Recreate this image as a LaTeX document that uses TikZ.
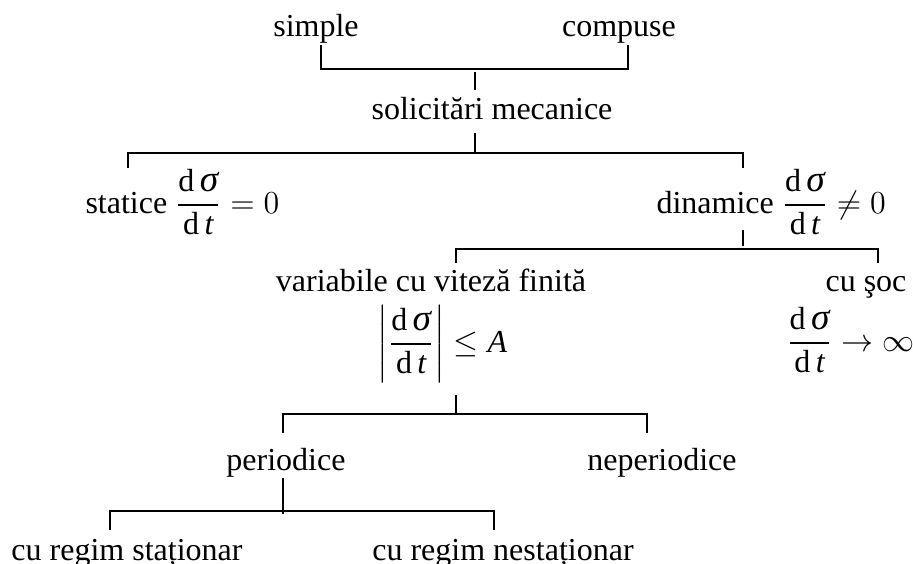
\documentclass[tikz,border=0pt]{standalone}
\usepackage{amsmath}
\usepackage{fontspec}
\setmainfont{Liberation Serif}
\usepackage{tikz}
\newcommand{\dsdt}{\dfrac{\mathrm{d}\,\textit{\fontsize{14}{16}\selectfont σ}}{\mathrm{d}\,\textit{t}}}

\begin{document}
\begin{tikzpicture}[
    x=0.375pt, y=-0.375pt,
    lbl/.style={inner sep=0pt, font=\fontsize{12}{14}\selectfont},
    br/.style={line width=0.75pt, black}
]
\useasboundingbox (0,0) rectangle (913,564);

\node[lbl, anchor=base] (simple) at (316,37) {simple};
\node[lbl, anchor=base] (compuse) at (619,37) {compuse};
\node[lbl, anchor=base] (solic) at (492,119) {solicitări mecanice};
\node[lbl, anchor=base west] (statice) at (85,213) {statice $\dsdt = 0$};
\node[lbl, anchor=base west] (dinamice) at (656,213) {dinamice $\dsdt \neq 0$};
\node[lbl, anchor=base] (variab) at (431,292) {variabile cu viteză finită};
\node[lbl, anchor=base west] (modul) at (377,352) {$\left|\dsdt\right| \leq \textit{A}$};
\node[lbl, anchor=base] (soc) at (866,292) {cu şoc};
\node[lbl, anchor=base west] (socinf) at (786,351) {$\dsdt \to \infty$};
\node[lbl, anchor=base] (period) at (286,470) {periodice};
\node[lbl, anchor=base] (neperiod) at (662,470) {neperiodice};
\node[lbl, anchor=base] (stat) at (127,560) {cu regim staționar};
\node[lbl, anchor=base] (nestat) at (503,560) {cu regim nestaționar};

% bracket ends and stems
\coordinate (k1a) at (321,45);  \coordinate (k1) at (475,69);  \coordinate (k1b) at (628,45);
\coordinate (k2a) at (128,168); \coordinate (k2) at (475,153); \coordinate (k2b) at (743,168);
\coordinate (k3a) at (456,263); \coordinate (k3) at (743,249); \coordinate (k3b) at (878,263);
\coordinate (k4a) at (283,433); \coordinate (k4) at (456,414); \coordinate (k4b) at (647,433);
\coordinate (k5a) at (110,530); \coordinate (k5) at (283,511); \coordinate (k5b) at (494,530);
\coordinate (s1a) at (475,72);  \coordinate (s1b) at (475,90);
\coordinate (s2) at (475,133);
\coordinate (s3a) at (743,230); \coordinate (s3b) at (743,246);
\coordinate (s4) at (456,395);
\coordinate (s5a) at (283,478); \coordinate (s5b) at (283,514);

\draw[br] (k1a) |- (k1) -| (k1b);
\draw[br] (s1a) -- (s1b);
\draw[br] (k2a) |- (k2) -| (k2b);
\draw[br] (s2) -- (k2);
\draw[br] (k3a) |- (k3) -| (k3b);
\draw[br] (s3a) -- (s3b);
\draw[br] (k4a) |- (k4) -| (k4b);
\draw[br] (s4) -- (k4);
\draw[br] (k5a) |- (k5) -| (k5b);
\draw[br] (s5a) -- (s5b);
\end{tikzpicture}
\end{document}
